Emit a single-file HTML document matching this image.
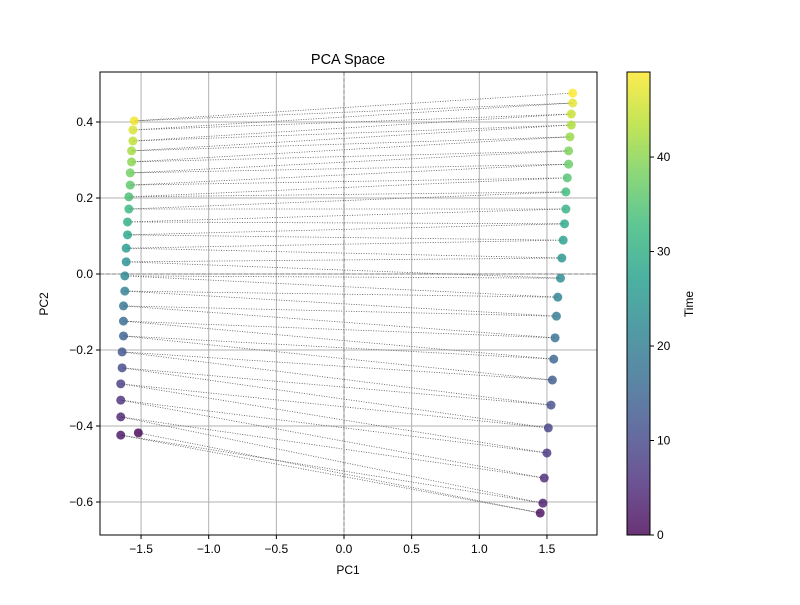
<!DOCTYPE html>
<html><head><meta charset="utf-8"><style>
body{margin:0;background:#fff;font-family:"Liberation Sans","DejaVu Sans",sans-serif}
</style></head><body>
<svg id="c" width="800" height="600" xmlns="http://www.w3.org/2000/svg" font-family="Liberation Sans, DejaVu Sans, sans-serif"></svg>
<script>
const leftX=[-1.52,-1.65,-1.65,-1.65,-1.65,-1.64,-1.64,-1.63,-1.63,-1.63,-1.62,-1.62,-1.61,-1.61,-1.60,-1.60,-1.59,-1.59,-1.58,-1.58,-1.57,-1.57,-1.56,-1.56,-1.55];
const leftY=[-0.418,-0.424,-0.376,-0.332,-0.289,-0.247,-0.205,-0.163,-0.124,-0.084,-0.045,-0.005,0.032,0.068,0.103,0.137,0.171,0.203,0.234,0.266,0.295,0.324,0.35,0.379,0.403];
const rightX=[1.45,1.47,1.48,1.5,1.51,1.53,1.54,1.55,1.56,1.57,1.58,1.6,1.61,1.62,1.63,1.64,1.64,1.65,1.66,1.66,1.67,1.68,1.68,1.69,1.69];
const rightY=[-0.629,-0.603,-0.537,-0.471,-0.405,-0.345,-0.279,-0.224,-0.168,-0.111,-0.061,-0.011,0.042,0.089,0.132,0.171,0.216,0.253,0.289,0.324,0.361,0.392,0.421,0.45,0.476];
const xTicks=[-1.5,-1.0,-0.5,0.0,0.5,1.0,1.5];
const yTicks=[-0.6,-0.4,-0.2,0.0,0.2,0.4];
const cTicks=[0,10,20,30,40];
const L=100,R=597,T=72,B=535;
const sx=v=>344+v*135.3, sy=v=>274-v*380;
const svg=document.getElementById('c');const NS='http://www.w3.org/2000/svg';
function el(t,a,txt){const e=document.createElementNS(NS,t);for(const k in a)e.setAttribute(k,a[k]);if(txt!=null)e.textContent=txt;svg.appendChild(e);return e;}
const vir=[[68,1,84],[72,40,120],[62,73,137],[49,104,142],[38,130,142],[31,158,137],[53,183,121],[109,205,89],[180,222,44],[253,231,37]];
function cmap(t){t=Math.max(0,Math.min(1,t))*9;const i=Math.min(8,Math.floor(t)),f=t-i;const a=vir[i],b=vir[i+1];return `rgb(${a.map((v,k)=>Math.round(v+(b[k]-v)*f)).join(',')})`;}
xTicks.forEach(v=>{const g=el('line',{x1:sx(v),x2:sx(v),y1:T,y2:B,stroke:'#b0b0b0','stroke-width':1});});
yTicks.forEach(v=>{const g=el('line',{x1:L,x2:R,y1:sy(v),y2:sy(v),stroke:'#b0b0b0','stroke-width':1});});
let z=el('line',{x1:sx(0),x2:sx(0),y1:T,y2:B,stroke:'#808080','stroke-dasharray':'4,2'});
z=el('line',{x1:L,x2:R,y1:sy(0),y2:sy(0),stroke:'#808080','stroke-dasharray':'4,2'});
const pts=[];for(let i=0;i<leftX.length;i++){pts.push([leftX[i],leftY[i]]);pts.push([rightX[i],rightY[i]]);}
let d='';pts.forEach((p,i)=>{d+=(i?'L':'M')+sx(p[0])+','+sy(p[1]);});
const pl=el('path',{d:d,fill:'none',stroke:'#555','stroke-width':0.8,'stroke-dasharray':'1,1.5'});

pts.forEach((p,i)=>{const c=el('circle',{cx:sx(p[0]),cy:sy(p[1]),r:4.5,fill:cmap(i/49),'fill-opacity':0.8});
});
let f=el('rect',{x:L,y:T,width:R-L,height:B-T,fill:'none',stroke:'#000','stroke-width':1});
xTicks.forEach(v=>{el('line',{x1:sx(v),x2:sx(v),y1:B,y2:B+4,stroke:'#000'});const t=el('text',{x:sx(v),y:B+18,'text-anchor':'middle','font-size':12},(v<0?'\u2212':'')+Math.abs(v).toFixed(1));});
yTicks.forEach(v=>{el('line',{x1:L-4,x2:L,y1:sy(v),y2:sy(v),stroke:'#000'});const t=el('text',{x:L-7,y:sy(v)+4,'text-anchor':'end','font-size':12},(v<0?'\u2212':'')+Math.abs(v).toFixed(1));});
let t=el('text',{x:348,y:64,'text-anchor':'middle','font-size':14.5},'PCA Space');
t=el('text',{x:348,y:574,'text-anchor':'middle','font-size':12},'PC1');
t=el('text',{x:48,y:304,'text-anchor':'middle','font-size':12,transform:'rotate(-90 48 304)'},'PC2');
const defs=el('defs',{});const lg=document.createElementNS(NS,'linearGradient');lg.setAttribute('id','g');lg.setAttribute('x1','0');lg.setAttribute('y1','1');lg.setAttribute('x2','0');lg.setAttribute('y2','0');defs.appendChild(lg);
for(let i=0;i<=9;i++){const s=document.createElementNS(NS,'stop');s.setAttribute('offset',i/9);s.setAttribute('stop-color',cmap(i/9));s.setAttribute('stop-opacity',0.8);lg.appendChild(s);}
const CL=627,CR=650,cy=v=>535-v*(463/49);
let cb=el('rect',{x:CL,y:T,width:CR-CL,height:B-T,fill:'url(#g)',stroke:'#000'});
cTicks.forEach(v=>{el('line',{x1:CR,x2:CR+4,y1:cy(v),y2:cy(v),stroke:'#000'});const t=el('text',{x:CR+7,y:cy(v)+4,'font-size':12},String(v));});
t=el('text',{x:693,y:304,'text-anchor':'middle','font-size':12,transform:'rotate(-90 693 304)'},'Time');
</script>
</body></html>
